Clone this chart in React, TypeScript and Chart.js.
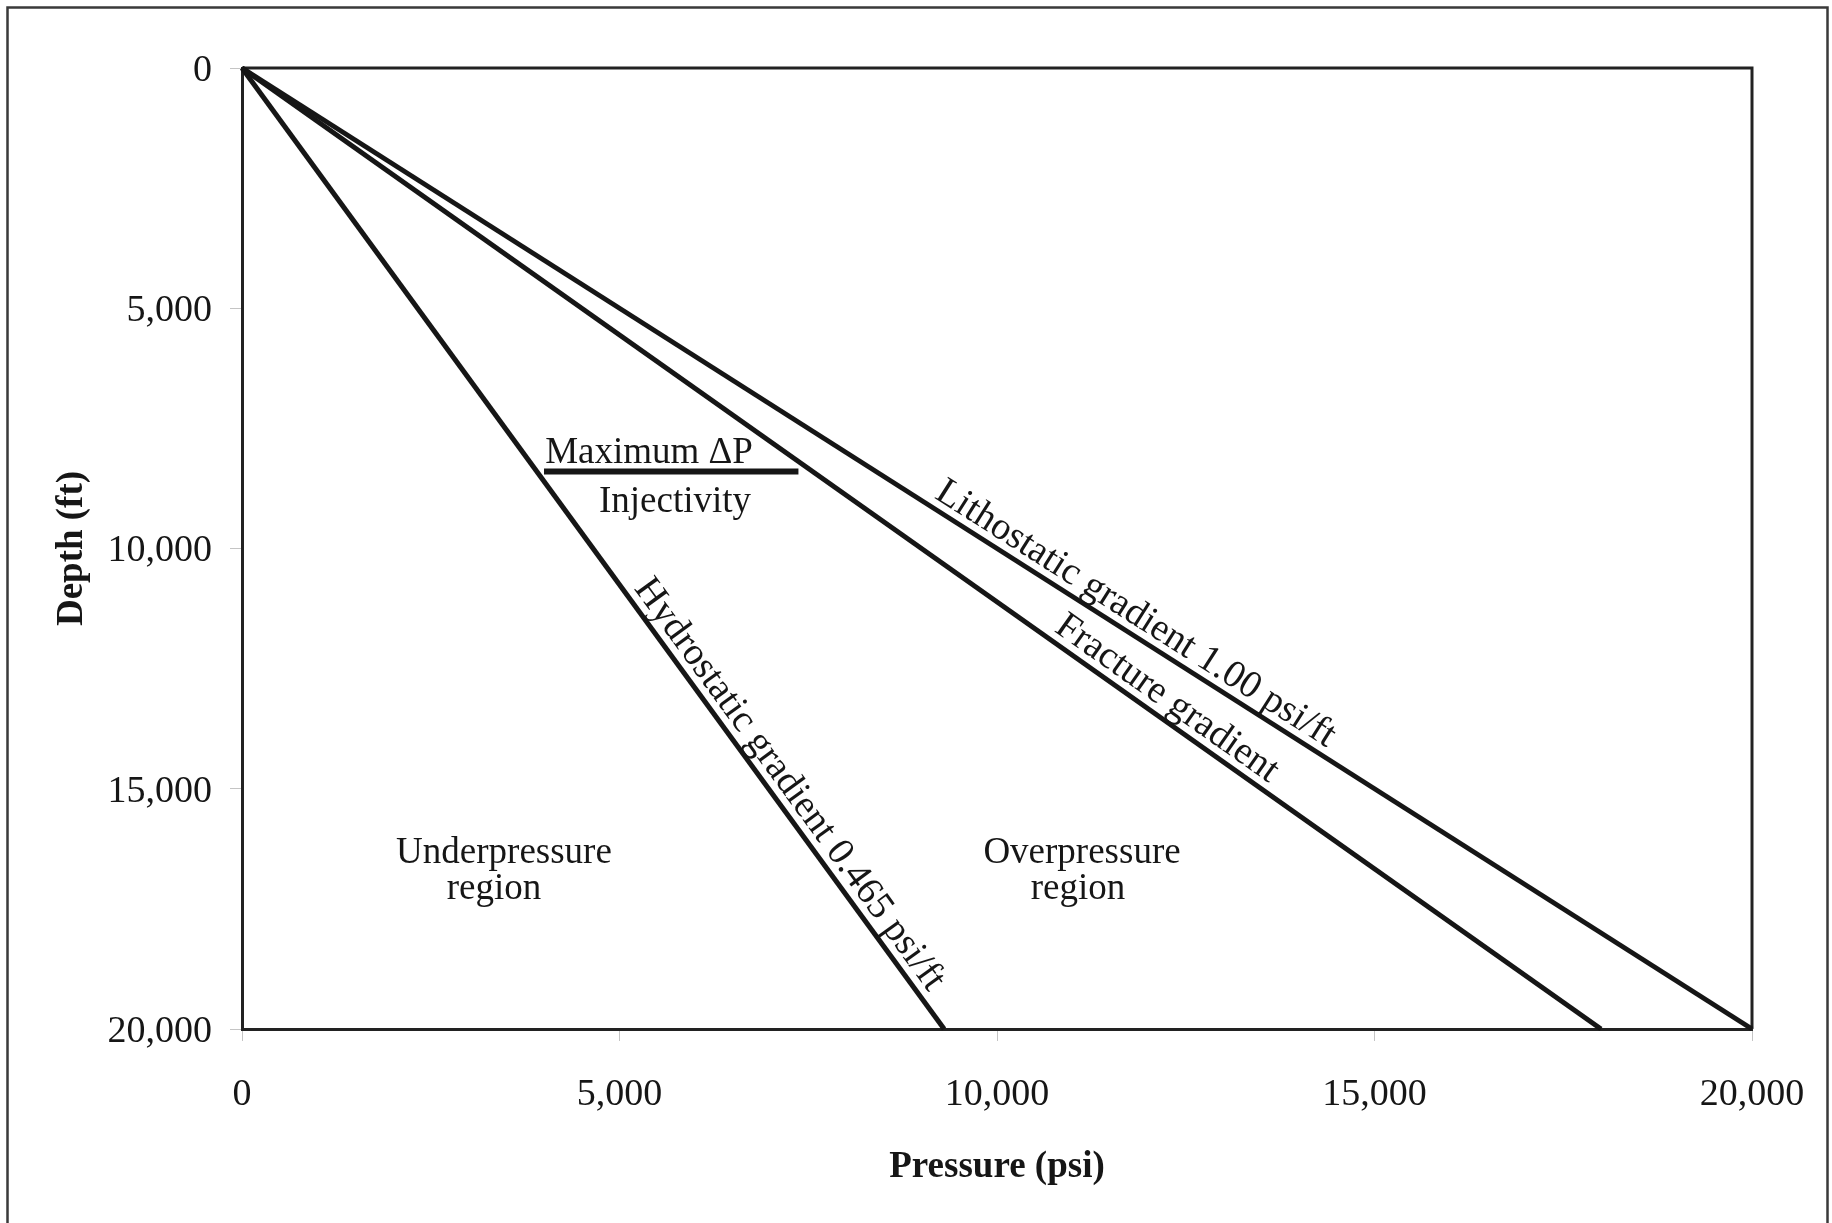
import React, { useEffect, useRef } from "react";
import { Chart, registerables } from "chart.js";

Chart.register(...registerables);

// Depth (ft) at the two ends of every gradient line
const depthFt = [0, 20000];

// Pressure (psi) at those depths
const lithostaticPsi = [0, 20000]; // 1.00 psi/ft
const fracturePsi = [0, 18000];
const hydrostaticPsi = [0, 9300]; // 0.465 psi/ft

// Maximum ΔP bar between hydrostatic and fracture pressure
const deltaPDepthFt = [8400, 8400];
const deltaPPsi = [4000, 7370];

// Axis ranges and tick spacing
const pressureRange = [0, 20000];
const depthRange = [0, 20000];
const tickStep = 5000;

// Text running along each gradient line (depth = centre of the label)
const lineLabels = [
  { text: "Lithostatic gradient 1.00 psi/ft", psi: lithostaticPsi, depth: 11700 },
  { text: "Fracture gradient", psi: fracturePsi, depth: 13450 },
  { text: "Hydrostatic gradient 0.465 psi/ft", psi: hydrostaticPsi, depth: 15150 },
];

// Free-standing notes, placed in pressure/depth units
const notes = [
  { text: "Maximum \u0394P", psi: 5391, depth: 8221 },
  { text: "Injectivity", psi: 5735, depth: 9240 },
  { text: "Underpressure", psi: 3470, depth: 16545 },
  { text: "region", psi: 3338, depth: 17300 },
  { text: "Overpressure", psi: 11126, depth: 16545 },
  { text: "region", psi: 11073, depth: 17300 },
];

const SERIF = "'Liberation Serif', 'Times New Roman', serif";
const INK = "#161616";
const W = 1832;
const H = 1223;

const toPoints = (xs: number[], ys: number[]) => xs.map((v, i) => ({ x: v, y: ys[i] }));

const frame = {
  id: "frame",
  beforeDraw(chart: any) {
    const { ctx, width, height } = chart;
    ctx.save();
    ctx.fillStyle = "#ffffff";
    ctx.fillRect(0, 0, width, height);
    ctx.strokeStyle = "#3a3a3a";
    ctx.lineWidth = 2.5;
    ctx.strokeRect(7.5, 7.5, width - 12, height + 20);
    ctx.restore();
  },
  beforeDatasetsDraw(chart: any) {
    const { ctx, chartArea: a } = chart;
    ctx.save();
    ctx.strokeStyle = "#222";
    ctx.lineWidth = 3;
    ctx.beginPath();
    ctx.moveTo(a.left, a.top);
    ctx.lineTo(a.right, a.top);
    ctx.lineTo(a.right, a.bottom);
    ctx.stroke();
    ctx.restore();
  },
};

const annotations = {
  id: "annotations",
  afterDatasetsDraw(chart: any) {
    const { ctx } = chart;
    const xs = chart.scales.x;
    const ys = chart.scales.y;
    ctx.save();
    ctx.fillStyle = INK;
    ctx.textAlign = "center";
    ctx.textBaseline = "alphabetic";
    ctx.font = `38.5px ${SERIF}`;
    for (const l of lineLabels) {
      const x0 = xs.getPixelForValue(l.psi[0]);
      const y0 = ys.getPixelForValue(depthFt[0]);
      const x1 = xs.getPixelForValue(l.psi[1]);
      const y1 = ys.getPixelForValue(depthFt[1]);
      const t = (l.depth - depthFt[0]) / (depthFt[1] - depthFt[0]);
      ctx.save();
      ctx.translate(x0 + (x1 - x0) * t, y0 + (y1 - y0) * t);
      ctx.rotate(Math.atan2(y1 - y0, x1 - x0));
      ctx.fillText(l.text, 0, -9);
      ctx.restore();
    }
    ctx.font = `37px ${SERIF}`;
    for (const n of notes) {
      ctx.fillText(n.text, xs.getPixelForValue(n.psi), ys.getPixelForValue(n.depth));
    }
    ctx.restore();
  },
};

const lineStyle = {
  showLine: true,
  borderColor: INK,
  borderWidth: 5,
  pointRadius: 0,
  fill: false,
  clip: 8,
};

const fmt = (v: any) => Number(v).toLocaleString("en-US");

export default function App() {
  const ref = useRef<HTMLCanvasElement | null>(null);

  useEffect(() => {
    if (!ref.current) return;
    const chart = new Chart(ref.current, {
      type: "scatter",
      data: {
        datasets: [
          { label: "Lithostatic", data: toPoints(lithostaticPsi, depthFt), ...lineStyle },
          { label: "Fracture", data: toPoints(fracturePsi, depthFt), ...lineStyle },
          { label: "Hydrostatic", data: toPoints(hydrostaticPsi, depthFt), ...lineStyle },
          { label: "Maximum ΔP", data: toPoints(deltaPPsi, deltaPDepthFt), ...lineStyle, borderWidth: 6 },
        ],
      } as any,
      options: {
        responsive: false,
        animation: false,
        devicePixelRatio: 1,
        layout: { padding: { top: 68, right: 80, bottom: 0, left: 0 } },
        plugins: { legend: { display: false }, tooltip: { enabled: false } },
        scales: {
          x: {
            type: "linear",
            position: "bottom",
            min: pressureRange[0],
            max: pressureRange[1],
            ticks: {
              stepSize: tickStep,
              padding: 31,
              color: INK,
              maxRotation: 0,
              autoSkip: false,
              font: { family: SERIF, size: 38 },
              callback: fmt,
            },
            grid: { drawOnChartArea: false, drawTicks: true, tickLength: 12, color: "#c4c4c4", lineWidth: 1 },
            border: { display: true, color: "#222", width: 3 },
            title: {
              display: true,
              text: "Pressure (psi)",
              color: INK,
              font: { family: SERIF, size: 37, weight: "bold" },
              padding: { top: 0, bottom: 33 },
            },
            afterFit: (s: any) => {
              s.height = 194;
              s.paddingLeft = 0;
              s.paddingRight = 0;
            },
          },
          y: {
            type: "linear",
            position: "left",
            reverse: true,
            min: depthRange[0],
            max: depthRange[1],
            ticks: {
              stepSize: tickStep,
              padding: 18,
              labelOffset: 3,
              color: INK,
              autoSkip: false,
              font: { family: SERIF, size: 38 },
              callback: fmt,
            },
            grid: { drawOnChartArea: false, drawTicks: true, tickLength: 12, color: "#c4c4c4", lineWidth: 1 },
            border: { display: true, color: "#222", width: 3 },
            title: {
              display: true,
              text: "Depth (ft)",
              color: INK,
              font: { family: SERIF, size: 37, weight: "bold" },
              padding: { top: 50, bottom: 0 },
            },
            afterFit: (s: any) => {
              s.width = 242;
              s.paddingTop = 0;
              s.paddingBottom = 0;
            },
          },
        },
      } as any,
      plugins: [frame, annotations],
    });
    return () => chart.destroy();
  }, []);

  return (
    <div style={{ position: "fixed", left: 0, top: 0, width: W, height: H, background: "#fff" }}>
      <canvas ref={ref} width={W} height={H} style={{ display: "block", width: W, height: H }} />
    </div>
  );
}
